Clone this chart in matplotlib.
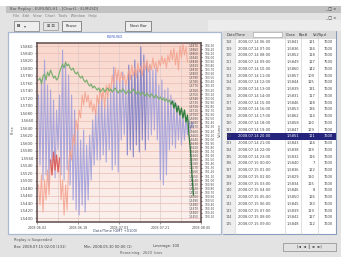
import numpy as np
import matplotlib
matplotlib.use("Agg")
import matplotlib.pyplot as plt
from matplotlib.patches import Rectangle
from matplotlib.colors import LinearSegmentedColormap

W, H = 341, 257

# series (0 = bottom of plot, 179 = top)
green = [142, 144, 138, 146, 148, 142, 150, 146, 152, 148,
         144, 146, 142, 144, 150, 154, 158, 154, 160, 156,
         158, 154, 152, 154, 150, 148, 150, 146, 144, 146,
         142, 140, 142, 138, 136, 138, 134, 136, 134, 132,
         134, 130, 132, 134, 130, 132, 134, 131, 133, 130,
         132, 134, 131, 129, 132, 130, 133, 131, 128, 130,
         132, 129, 131, 133, 130, 128, 131, 129, 127, 130,
         128, 126, 129, 127, 125, 128, 126, 124, 127, 125,
         123, 125, 122, 124, 121, 123, 120, 122, 118, 121,
         114, 119, 110, 116, 107, 114, 104, 112, 100, 107,
         87, 72, 47, 27]
blue = [127, 57, 142, 42, 162, 47, 137, 37, 132, 52, 122, 44,
        112, 72, 127,
        47, 172, 42, 157, 52, 147, 37,
        127, 22, 112,
        12, 97, 7, 82, 17, 92, 10, 77, 22, 87,
        42, 102, 57, 112, 62,
        122, 62, 127, 67, 117, 60, 124, 72, 132,
        52, 155, 57, 147, 50, 142,
        82, 150, 87, 137,
        67, 157, 72, 147, 65, 162, 77, 152, 70, 175, 82, 167, 72, 160,
        82, 157, 87, 152, 92, 154, 82,
        137, 42, 142, 37, 132, 47, 134,
        72, 127, 77, 122, 74, 117, 82, 112, 77,
        107, 82, 104, 87, 102, 92, 100, 94]
salmon = [37, 17, 47, 10, 42, 22, 52, 27, 62, 47,
          70, 52, 67, 50, 64, 22, 42, 7, 37, 12,
          57, 72, 62, 87, 77, 102, 92, 112, 104, 127,
          117, 130, 120, 127, 114, 122, 110, 118, 107, 127,
          117, 134, 122, 132, 114, 137, 124, 138, 130, 147,
          137, 154, 142, 152, 139, 150, 142, 147, 137, 144,
          152, 142, 157, 146, 154, 144, 159, 150, 156, 146,
          160, 152, 162, 150, 158, 152, 164, 154, 160, 150,
          162, 156, 166, 158, 164, 154, 167, 160, 172, 162,
          174, 157, 170, 152, 176, 164, 178, 167, 175, 160]

left_labels = ["1.5860", "1.5840", "1.5820", "1.5800", "1.5780", "1.5760",
               "1.5740", "1.5720", "1.5700", "1.5680", "1.5660", "1.5640",
               "1.5620", "1.5600", "1.5580", "1.5560", "1.5540", "1.5520",
               "1.5500", "1.5480", "1.5460", "1.5440", "1.5420", "1.5400"]
inner_labels = ["1.5870", "1.5860", "1.5850", "1.5840", "1.5830", "1.5820",
                "1.5810", "1.5800", "1.5790", "1.5780", "1.5770", "1.5760",
                "1.5750", "1.5740", "1.5730", "1.5720", "1.5710", "1.5700",
                "1.5690", "1.5680", "1.5670", "1.5660", "1.5650", "1.5640",
                "1.5630", "1.5620", "1.5610", "1.5600", "1.5590", "1.5580",
                "1.5570", "1.5560", "1.5550", "1.5540", "1.5530", "1.5520",
                "1.5510", "1.5500", "1.5490", "1.5480", "1.5470", "1.5460",
                "1.5450"]
outer_labels = ["104.30", "104.20", "104.10", "104.00", "103.90", "103.80",
                "103.70", "103.60", "103.50", "103.40", "103.30", "103.20",
                "103.10", "103.00", "102.90", "102.80", "102.70", "102.60",
                "102.50", "102.40", "102.30", "102.20", "102.10", "102.00",
                "101.90", "101.80", "101.70", "101.60", "101.50", "101.40",
                "101.30", "101.20", "101.10", "101.00", "100.90", "100.80",
                "100.70", "100.60", "100.50", "100.40", "100.30", "100.20",
                "100.10"]
x_labels = ["2008.06.02", "2008.06.18", "2008.07.03", "2008.07.21", "2008.08.05"]

row_numbers = ["118", "119", "120", "121", "122", "123", "124", "125", "126", "127",
               "128", "129", "130", "131", "132", "133", "134", "135", "136", "137",
               "138", "139", "140", "141", "142", "143", "144", "145"]
row_dates = ["2008.07.14 06:00", "2008.07.14 07:00", "2008.07.14 08:00", "2008.07.14 09:00",
             "2008.07.14 10:00", "2008.07.14 11:00", "2008.07.14 12:00", "2008.07.14 13:00",
             "2008.07.14 14:00", "2008.07.14 15:00", "2008.07.14 16:00", "2008.07.14 17:00",
             "2008.07.14 18:00", "2008.07.14 19:00", "2008.07.14 20:00", "2008.07.14 21:00",
             "2008.07.14 22:00", "2008.07.14 23:00", "2008.07.15 00:00", "2008.07.15 01:00",
             "2008.07.15 02:00", "2008.07.15 03:00", "2008.07.15 04:00", "2008.07.15 05:00",
             "2008.07.15 06:00", "2008.07.15 07:00", "2008.07.15 08:00", "2008.07.15 09:00"]
row_close = ["1.5841", "1.5836", "1.5852", "1.5849", "1.5860", "1.5857", "1.5844", "1.5839",
             "1.5831", "1.5846", "1.5853", "1.5862", "1.5858", "1.5847", "1.5851", "1.5843",
             "1.5838", "1.5832", "1.5840", "1.5836", "1.5829", "1.5834", "1.5846", "1.5850",
             "1.5845", "1.5839", "1.5842", "1.5848"]
row_bars = ["121", "134", "118", "127", "142", "109", "125", "131", "117", "128",
            "136", "114", "120", "129", "111", "124", "139", "116", "7", "122",
            "130", "115", "8", "126", "133", "119", "127", "112"]
row_vol = ["7600", "7600", "7600", "7500", "7600", "7600", "7600", "7600", "7600", "7600",
           "7600", "7600", "7600", "7600", "7600", "7600", "7600", "7600", "7600", "7600",
           "7600", "7600", "7600", "7600", "7600", "7600", "7600", "7600"]
selected_row = 14


fig = plt.figure(figsize=(W / 100, H / 100), dpi=100, facecolor="#e3e3e3")


def box(x0, y0, x1, y1, fc, ec="none", lw=0.6, z=-1):
    fig.add_artist(Rectangle((x0 / W, 1 - y1 / H), (x1 - x0) / W, (y1 - y0) / H,
                             transform=fig.transFigure, facecolor=fc,
                             edgecolor=ec, linewidth=lw, zorder=z))


def txt(x, y, s, size=2.8, color="#444444", ha="left", **kw):
    fig.text(x / W, 1 - y / H, s, fontsize=size, color=color, ha=ha, va="center", **kw)


# window chrome
box(0, 0, W, 6, "white")
box(6, 6, W, 12.5, "#c2c2c2")
txt(10, 9.2, "Bar Replay - EURUSD,H1 - [Chart1 : EURUSD]", size=2.8, color="#505050")
txt(331, 9.5, "_ □ ×", size=2.8, color="#303030", ha="center")
txt(331, 18, "_ □ ×", size=2.8, color="#303030", ha="center")
txt(13, 16, "File   Edit   View   Chart   Tools   Window   Help", size=2.6, color="#7a7a7a")
box(208, 20, W, 31, "#ececec")
box(14, 21, 39, 31, "#eeeeee", ec="#8a8a8a")
txt(17, 26, "B", size=3.2, color="#333333", weight="bold")
txt(24, 26, "▾", size=3, color="#555555")
box(43, 22, 58, 30, "#e4e4e4", ec="#a0a0a0")
txt(50.5, 26, "⊞ ⊟", size=2.8, color="#333333", ha="center")
box(62, 21, 81, 31, "#eeeeee", ec="#7a7a7a")
txt(71.5, 26, "Pause", size=2.8, color="#333333", ha="center")
box(125, 21, 151, 31, "#eeeeee", ec="#7a7a7a")
txt(138, 26, "Next Bar", size=2.8, color="#333333", ha="center")

# chart panel
box(8, 32, 221, 234, "white", ec="#aab8d2", lw=0.9)
txt(115, 37.5, "EURUSD", size=2.8, color="#3a58c8", ha="center")
txt(13, 130, "Price", size=2.6, color="#555555", ha="center", rotation=90)
txt(220, 130, "Volume", size=2.6, color="#555555", ha="center", rotation=90)
txt(115, 231, "Date/Time (GMT +0100)", size=2.6, color="#3a4a6a", ha="center")

# plot area
ax = fig.add_axes([37 / W, 1 - 222 / H, 164 / W, 179 / H])
xmin, xmax = -1, 108
ax.set_xlim(xmin, xmax)
ax.set_ylim(0, 179)
bg = LinearSegmentedColormap.from_list("bg", ["#fbf1ee", "#f9d8cd"])
ax.imshow(np.linspace(0, 1, 64)[:, None], cmap=bg, extent=(xmin, xmax, 0, 179),
          aspect="auto", origin="lower", zorder=0)

left_pos = np.linspace(176, 4, len(left_labels))
ax.set_yticks(left_pos, left_labels)
xpos = np.linspace(xmin, xmax, len(x_labels))
ax.set_xticks(xpos, x_labels)
ax.set_xticks((xpos[:-1] + xpos[1:]) / 2, minor=True)
ax.grid(axis="y", color="#ecbcb2", lw=0.5, zorder=1)
ax.grid(axis="x", which="both", color="#dccaca", lw=0.5, zorder=1)
ax.tick_params(axis="y", labelsize=2.8, labelcolor="#4a4a4a", length=1.5, width=0.4,
               pad=1, color="#555555")
ax.tick_params(axis="x", labelsize=2.4, labelcolor="#4a4a4a", length=1.5, width=0.4,
               pad=1.5, color="#555555")
ax.tick_params(axis="x", which="minor", length=0)
for s in ax.spines.values():
    s.set_color("#5e4c4c")
    s.set_linewidth(1.1)

xb = np.arange(len(blue))
xs = np.arange(len(salmon))
xg = np.arange(len(green))
ax.plot(xb, blue, color="#9c9cdc", lw=0.8, alpha=0.85, zorder=2)
ax.plot(xb[59:73], blue[59:73], color="#5a5aa8", lw=0.5, alpha=0.5, zorder=2)
ax.plot(xs, salmon, color="#f4a08c", lw=0.75, alpha=0.85, zorder=3)
ax.plot(xs[8:15], salmon[8:15], color="#d86060", lw=0.8, zorder=3)
ax.plot(xg[:89], green[:89], color="#7aae70", lw=0.85, zorder=4)
ax.plot(xg[88:], green[88:], color="#2f7f3f", lw=0.95, zorder=4)

right_pos = np.linspace(177, 5, len(inner_labels))
ax2 = ax.twinx()
ax2.set_ylim(0, 179)
ax2.set_yticks(right_pos, inner_labels)
ax2.tick_params(axis="y", labelsize=2.1, labelcolor="#4a4a4a", length=0, pad=-9.2)
ax2.spines[:].set_visible(False)
ax3 = ax.twinx()
ax3.set_ylim(0, 179)
ax3.set_yticks(right_pos, outer_labels)
ax3.tick_params(axis="y", labelsize=2.1, labelcolor="#4a4a4a", length=1, width=0.4, pad=1.5)
ax3.spines[:].set_visible(False)

# data table
box(223, 31, 336, 234, "white", ec="#8c9cbc", lw=0.8)
box(223, 31, 336, 38.5, "#dadada")
box(223, 38.5, 235, 234, "#efefef")
box(253, 32.5, 282, 37, "white", ec="#9a9a9a", lw=0.4)
txt(227, 34.8, "Date/Time", size=2.6, color="#333333")
txt(286, 34.8, "Close", size=2.6, color="#333333")
txt(299, 34.8, "Bar#", size=2.6, color="#333333")
txt(313, 34.8, "Vol/Spd", size=2.6, color="#333333")
for xl in [235, 285, 301, 318]:
    fig.add_artist(plt.Line2D([xl / W, xl / W], [1 - 31 / H, 1 - 234 / H],
                              transform=fig.transFigure, color="#c8c8c8", lw=0.4, zorder=-1))
rh = 6.75
for k in range(len(row_dates)):
    yc = 38.5 + rh * (k + 0.5)
    col = "#444444"
    if k == selected_row:
        box(227, yc - rh / 2, 336, yc + rh / 2, "#24247c")
        col = "white"
    txt(226, yc, row_numbers[k], size=2.4, color="#555555")
    txt(238, yc, row_dates[k], size=2.6, color=col)
    txt(299, yc, row_close[k], size=2.6, color=col, ha="right")
    txt(315, yc, row_bars[k], size=2.6, color=col, ha="right")
    txt(333, yc, row_vol[k], size=2.6, color=col, ha="right")

# status area
txt(14, 240, "Replay is Suspended", size=2.6, color="#505050")
txt(14, 246.5, "Bar: 2008.07.15 02:00 (131)", size=2.6, color="#404040")
txt(84, 246.5, "Min: 2008.05.30 00:00 (1)", size=2.6, color="#404040")
txt(153, 246.5, "Leverage: 100", size=2.6, color="#404040")
txt(120, 253, "Remaining:  2620  bars", size=2.6, color="#606060")
box(283, 243, 336, 251, "#e2e2e2", ec="#8a8a8a", lw=0.5)
txt(309.5, 247, "|◄  ◄  ║  ►  ►|", size=2.6, color="#303030", ha="center")

fig.savefig("out.png", dpi=100, facecolor=fig.get_facecolor())
